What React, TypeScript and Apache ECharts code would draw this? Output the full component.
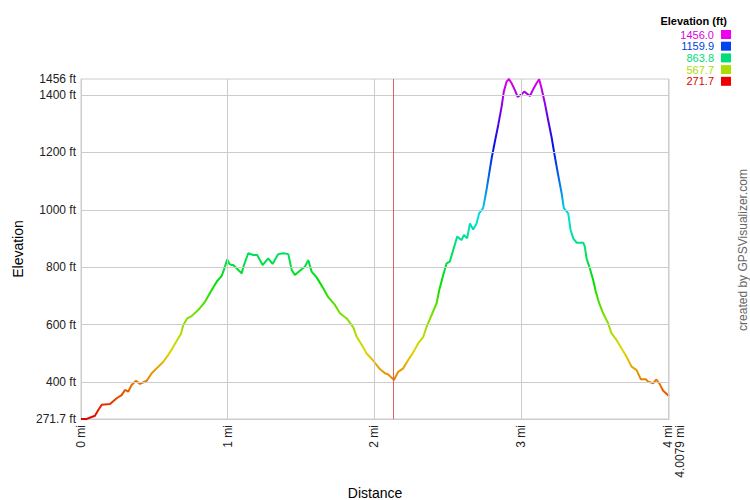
import React, { useEffect, useRef } from "react";
import * as echarts from "echarts";

const distances = [
  0, 0.039, 0.095, 0.118, 0.141, 0.198, 0.243, 0.277, 0.3, 0.322, 0.345, 0.375, 0.402, 0.448, 0.482,
  0.527, 0.561, 0.595, 0.629, 0.663, 0.681, 0.697, 0.724, 0.754, 0.799, 0.845, 0.891, 0.925, 0.959,
  0.974, 0.997, 1.011, 1.027, 1.038, 1.061, 1.095, 1.111, 1.14, 1.174, 1.201, 1.238, 1.276, 1.306,
  1.344, 1.379, 1.413, 1.436, 1.458, 1.492, 1.526, 1.549, 1.572, 1.606, 1.651, 1.685, 1.731, 1.765,
  1.811, 1.856, 1.879, 1.913, 1.947, 1.992, 2.033, 2.072, 2.094, 2.106, 2.133, 2.162, 2.196, 2.23,
  2.264, 2.298, 2.333, 2.356, 2.39, 2.424, 2.442, 2.469, 2.492, 2.514, 2.537, 2.564, 2.594, 2.61,
  2.632, 2.651, 2.673, 2.696, 2.714, 2.741, 2.76, 2.775, 2.799, 2.821, 2.844, 2.867, 2.882, 2.901,
  2.917, 2.935, 2.957, 2.976, 3.003, 3.021, 3.037, 3.06, 3.082, 3.105, 3.123, 3.139, 3.162, 3.184,
  3.207, 3.23, 3.253, 3.276, 3.291, 3.321, 3.337, 3.355, 3.378, 3.423, 3.434, 3.446, 3.468, 3.491,
  3.509, 3.532, 3.559, 3.593, 3.616, 3.65, 3.684, 3.718, 3.753, 3.787, 3.816, 3.85, 3.866, 3.9,
  3.921, 3.944, 3.968, 4.0079,
];

const elevations = [
  271.7, 272, 283, 303, 321, 324, 344, 355, 373, 367, 390, 405, 394, 405, 431,
  454, 471, 495, 523, 553, 568, 599, 622, 630, 651, 680, 721, 750, 770,
  791, 828, 812, 808, 808, 797, 779, 808, 849, 843, 843, 808, 831, 812,
  846, 849, 846, 791, 773, 788, 802, 825, 785, 765, 727, 696, 669, 640,
  622, 591, 558, 530, 500, 475, 448, 431, 427, 421, 407.5, 436, 448, 477,
  503, 535, 558, 593, 634, 675, 721, 773, 814, 820, 860, 907, 895, 913,
  901, 953, 932, 953, 988, 1006, 1058, 1104, 1180, 1238, 1296, 1360, 1412, 1447,
  1456, 1441, 1418, 1394, 1403, 1412, 1406, 1397, 1420, 1441, 1455, 1424, 1371, 1313,
  1255, 1185, 1120, 1058, 1006, 988, 930, 901, 886, 886, 872, 831, 797, 756,
  715, 675, 640, 605, 570, 547, 518, 489, 454, 442, 410, 410, 402, 396,
  410, 394, 370, 352,
];

const yTicks = [271.7, 400, 600, 800, 1000, 1200, 1400, 1456];
const yGridValues = [400, 600, 800, 1000, 1200, 1400];
const xTicks = [0, 1, 2, 3, 4, 4.0079];
const xGridValues = [1, 2, 3, 4];
const markerDistance = 2.128;

const legendValues = ["1456.0", "1159.9", "863.8", "567.7", "271.7"];
const legendTextColors = ["#dd00dd", "#0044dd", "#00dd77", "#aadd00", "#dd0000"];
const legendBoxColors = ["#ee00ee", "#0044ee", "#00dd77", "#aadd00", "#ee0000"];

const gradientColors = [
  "#e00000", "#e87000", "#e0d800", "#80e000", "#00e000", "#00e070",
  "#00e0e0", "#0070e8", "#0010e8", "#7000e8", "#e000e8",
];

export default function App() {
  const ref = useRef<HTMLDivElement>(null);
  useEffect(() => {
    document.body.style.margin = "0";
    document.body.style.overflow = "hidden";
    if (!ref.current) return;
    const chart = echarts.init(ref.current, undefined, { renderer: "svg" });
    const data = distances.map((d, i) => [d, elevations[i]]);
    const font = "'Liberation Sans', Arial, sans-serif";
    const graphics: any[] = [
      {
        type: "text",
        right: 23,
        top: 15,
        style: { text: "Elevation (ft)", font: `bold 11px ${font}`, fill: "#000" },
      },
      {
        type: "text",
        x: 743,
        y: 250,
        rotation: Math.PI / 2,
        style: {
          text: "created by GPSVisualizer.com",
          font: `12px ${font}`,
          fill: "#666",
          align: "center",
          verticalAlign: "middle",
        },
      },
    ];
    legendValues.forEach((v, i) => {
      const yc = 34.5 + i * 11.7;
      graphics.push({
        type: "text",
        x: 714,
        y: yc,
        style: {
          text: v,
          font: `11px ${font}`,
          lineHeight: 11,
          fill: legendTextColors[i],
          align: "right",
          verticalAlign: "middle",
        },
      });
      graphics.push({
        type: "rect",
        shape: { x: 721, y: yc - 4.5, width: 10, height: 9 },
        style: { fill: legendBoxColors[i] },
      });
    });

    chart.setOption({
      animation: false,
      grid: {
        left: 81,
        right: 81,
        top: 79,
        bottom: 81,
        outerBoundsMode: "none",
        containLabel: false,
        show: true,
        borderColor: "#cccccc",
        borderWidth: 1,
      },
      xAxis: {
        type: "value",
        min: 0,
        max: 4.0079,
        name: "Distance",
        nameLocation: "middle",
        nameGap: 59,
        nameTextStyle: { fontFamily: font, fontSize: 14, color: "#000" },
        axisLine: { show: true, lineStyle: { color: "#cccccc" } },
        axisTick: { show: false },
        splitLine: { show: false },
        axisLabel: {
          customValues: xTicks,
          rotate: 90,
          margin: 6,
          fontFamily: font,
          fontSize: 12,
          color: "#222",
          formatter: (v: number) =>
            v === 4.0079 ? "{p|4.0079 mi}" : `${v} mi`,
          rich: { p: { padding: [22, 0, 0, 0], fontFamily: font, fontSize: 12, color: "#222" } },
        },
      },
      yAxis: {
        type: "value",
        min: 271.7,
        max: 1456,
        name: "Elevation",
        nameLocation: "middle",
        nameGap: 56,
        nameRotate: 90,
        nameTextStyle: { fontFamily: font, fontSize: 14, color: "#000" },
        axisLine: { show: true, lineStyle: { color: "#cccccc" } },
        axisTick: { show: false },
        splitLine: { show: false },
        axisLabel: {
          customValues: yTicks,
          margin: 5,
          fontFamily: font,
          fontSize: 12,
          color: "#222",
          formatter: (v: number) => `${v} ft`,
        },
      },
      visualMap: {
        type: "continuous",
        show: false,
        seriesIndex: 1,
        dimension: 1,
        min: 271.7,
        max: 1456,
        inRange: { color: gradientColors },
      },
      graphic: graphics,
      series: [
        {
          type: "line",
          data: [[0, 271.7]],
          symbol: "none",
          lineStyle: { opacity: 0 },
          silent: true,
          markLine: {
            silent: true,
            symbol: "none",
            label: { show: false },
            lineStyle: { color: "#cccccc", type: "solid", width: 1 },
            data: [
              ...yGridValues.map((v) => ({ yAxis: v })),
              ...xGridValues.map((v) => ({ xAxis: v })),
              { xAxis: 4.0079, lineStyle: { color: "#cccccc", width: 2, type: "solid" } },
              { xAxis: markerDistance, lineStyle: { color: "#e06060", width: 1, type: "solid" } },
            ],
          },
        },
        {
          type: "line",
          data,
          symbol: "none",
          showSymbol: false,
          lineStyle: { width: 2 },
        },
      ],
    });
    return () => chart.dispose();
  }, []);
  return <div ref={ref} style={{ width: 750, height: 500 }} />;
}
